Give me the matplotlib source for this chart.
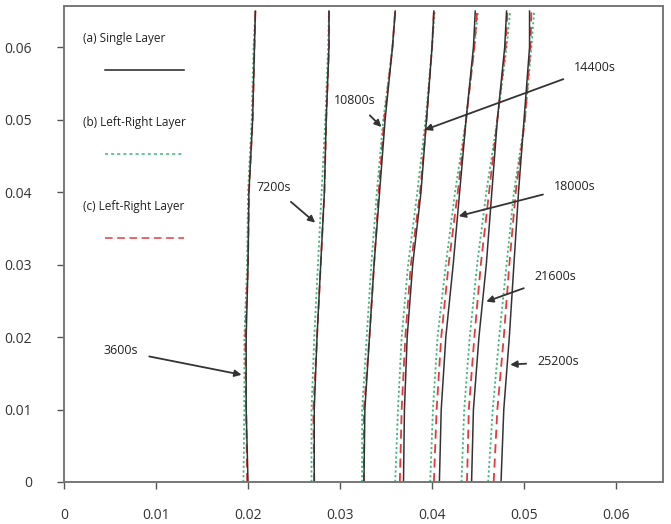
import numpy as np
import matplotlib.pyplot as plt

y = [0, 0.01, 0.02, 0.03, 0.04, 0.05, 0.06, 0.065]
times = ['3600s', '7200s', '10800s', '14400s', '18000s', '21600s', '25200s']

# (a) single layer - black solid
single = [
    [0.0200, 0.0198, 0.0198, 0.0200, 0.0201, 0.0205, 0.0207, 0.0208],
    [0.0272, 0.0272, 0.0275, 0.0279, 0.0283, 0.0285, 0.0288, 0.0288],
    [0.0326, 0.0327, 0.0332, 0.0337, 0.0343, 0.0349, 0.0357, 0.0360],
    [0.0369, 0.0370, 0.0373, 0.0379, 0.0388, 0.0394, 0.0400, 0.0402],
    [0.0408, 0.0410, 0.0415, 0.0423, 0.0430, 0.0437, 0.0445, 0.0447],
    [0.0443, 0.0445, 0.0451, 0.0459, 0.0465, 0.0471, 0.0479, 0.0481],
    [0.0475, 0.0478, 0.0484, 0.0489, 0.0494, 0.0500, 0.0506, 0.0506],
]
# (b) left-right layer - green dotted
lr_b = [
    [0.0195, 0.0196, 0.0196, 0.0199, 0.0200, 0.0204, 0.0206, 0.0208],
    [0.0269, 0.0269, 0.0272, 0.0276, 0.0280, 0.0284, 0.0287, 0.0288],
    [0.0324, 0.0324, 0.0329, 0.0334, 0.0340, 0.0347, 0.0357, 0.0360],
    [0.0360, 0.0363, 0.0367, 0.0374, 0.0384, 0.0393, 0.0400, 0.0403],
    [0.0398, 0.0401, 0.0406, 0.0415, 0.0425, 0.0437, 0.0446, 0.0450],
    [0.0432, 0.0435, 0.0441, 0.0449, 0.0459, 0.0471, 0.0481, 0.0485],
    [0.0461, 0.0466, 0.0473, 0.0481, 0.0489, 0.0501, 0.0508, 0.0511],
]
# (c) left-right layer - red dashed
lr_c = [
    [0.0199, 0.0198, 0.0197, 0.0200, 0.0201, 0.0205, 0.0207, 0.0208],
    [0.0272, 0.0271, 0.0275, 0.0279, 0.0283, 0.0285, 0.0288, 0.0288],
    [0.0326, 0.0326, 0.0332, 0.0337, 0.0342, 0.0348, 0.0357, 0.0360],
    [0.0365, 0.0367, 0.0371, 0.0377, 0.0387, 0.0394, 0.0400, 0.0402],
    [0.0402, 0.0405, 0.0410, 0.0418, 0.0428, 0.0437, 0.0446, 0.0449],
    [0.0438, 0.0440, 0.0446, 0.0453, 0.0462, 0.0471, 0.0480, 0.0482],
    [0.0467, 0.0471, 0.0478, 0.0484, 0.0491, 0.0501, 0.0507, 0.0508],
]

# annotation: arrow tip and label position
tips = [(0.0193, 0.0148), (0.0273, 0.0358), (0.0345, 0.0490), (0.0392, 0.0486),
        (0.0429, 0.0367), (0.0459, 0.0249), (0.0485, 0.0162)]
label_pos = [(0.0062, 0.0181), (0.0228, 0.0407), (0.0316, 0.0527), (0.0577, 0.0572),
             (0.0555, 0.0408), (0.0534, 0.0283), (0.0537, 0.0166)]

plt.rcParams['font.family'] = ['Open Sans', 'DejaVu Sans']

fig = plt.figure(figsize=(6.71, 5.24), dpi=100)
ax = fig.add_axes([0.0954, 0.0802, 0.8926, 0.9083])

green = '#3cb878'
red = '#e8383d'
for i in range(len(times)):
    ax.plot(lr_b[i], y, color=green, ls=(0, (1.2, 1.4)), lw=1.3)
    ax.plot(lr_c[i], y, color=red, ls=(0, (5, 3)), lw=1.3)
    ax.plot(single[i], y, color='#333333', lw=1.1)

for t, tip, pos in zip(times, tips, label_pos):
    ax.annotate(t, xy=tip, xytext=pos, ha='center', va='center', fontsize=9,
                color='#222222',
                arrowprops=dict(arrowstyle='-|>', color='#333333', lw=1.3,
                                mutation_scale=10, shrinkA=6, shrinkB=0))

# hand-made legend inside the plot
leg = [('(a) Single Layer', '#222222', '-'),
       ('(b) Left-Right Layer', green, (0, (2, 2))),
       ('(c) Left-Right Layer', red, (0, (5, 3)))]
for k, (txt, c, ls) in enumerate(leg):
    ty = 0.932 - k * 0.177
    ax.text(0.032, ty, txt, transform=ax.transAxes, fontsize=8.5, va='center', color='#222222')
    ax.plot([0.069, 0.2], [ty - 0.066, ty - 0.066], transform=ax.transAxes,
            color=c, ls=ls, lw=1.1)

ax.set_xlim(0, 0.0651)
ax.set_ylim(0, 0.0657)
ticks = [0, 0.01, 0.02, 0.03, 0.04, 0.05, 0.06]
ax.set_xticks(ticks)
ax.set_yticks(ticks)
ax.set_xticklabels(['%g' % v for v in ticks])
ax.set_yticklabels(['%g' % v for v in ticks])
ax.tick_params(axis='both', direction='out', length=5, width=1, color='#555555',
               labelsize=10, labelcolor='#333333')
ax.tick_params(axis='x', pad=14)
ax.tick_params(axis='y', pad=18)
for s in ax.spines.values():
    s.set_color('#777777')
    s.set_linewidth(1.4)

fig.savefig('out.png', dpi=100)
